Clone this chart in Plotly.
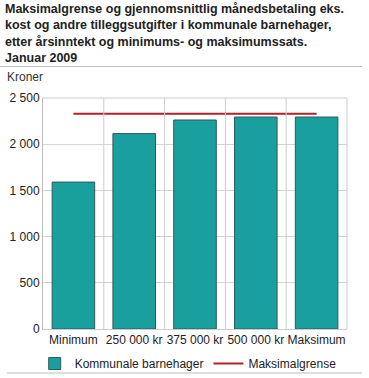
import plotly.graph_objects as go

categories = ["Minimum", "250 000 kr", "375 000 kr", "500 000 kr", "Maksimum"]
kommunale = [1590, 2115, 2262, 2294, 2294]
maksimalgrense = [2330, 2330, 2330, 2330, 2330]
y_ticks = [0, 500, 1000, 1500, 2000, 2500]
y_ticktext = ["0", "500", "1 000", "1 500", "2 000", "2 500"]

title = ("Maksimalgrense og gjennomsnittlig månedsbetaling eks.<br>"
         "kost og andre tilleggsutgifter i kommunale barnehager,<br>"
         "etter årsinntekt og minimums- og maksimumssats.<br>"
         "Januar 2009")

fig = go.Figure()
fig.add_trace(go.Bar(
    x=categories, y=kommunale, name="Kommunale barnehager",
    marker=dict(color="#1a9f9f", line=dict(color="#2e5a5a", width=1)),
    width=0.7,
))
fig.add_trace(go.Scatter(
    x=categories, y=maksimalgrense, name="Maksimalgrense", mode="lines",
    line=dict(color="#b3202a", width=2),
))

W, H = 369, 378
L, R, T, B = 43, 22, 98, 49
pw, ph = W - L - R, H - T - B

def px_x(px):
    return (px - L) / pw

def px_y(py):
    return (H - B - py) / ph

shapes = []
for i in range(len(categories) - 1):
    shapes.append(dict(type="line", xref="x", yref="paper", x0=i + 0.5, x1=i + 0.5,
                       y0=0, y1=1, line=dict(color="#cccccc", width=1), layer="above"))
shapes.append(dict(type="line", xref="paper", yref="paper", x0=1, x1=1, y0=0, y1=1,
                   line=dict(color="#cccccc", width=1), layer="above"))
shapes.append(dict(type="line", xref="paper", yref="paper", x0=0, x1=1, y0=1, y1=1,
                   line=dict(color="#cccccc", width=1), layer="above"))
# rules under title and at bottom
shapes.append(dict(type="line", xref="paper", yref="paper", x0=px_x(0), x1=px_x(362),
                   y0=px_y(66.5), y1=px_y(66.5), line=dict(color="#bdbdbd", width=1)))
shapes.append(dict(type="line", xref="paper", yref="paper", x0=px_x(7), x1=px_x(362),
                   y0=px_y(373), y1=px_y(373), line=dict(color="#bdbdbd", width=1)))

fig.update_layout(
    width=W, height=H,
    margin=dict(l=L, r=R, t=T, b=B, autoexpand=False),
    paper_bgcolor="white", plot_bgcolor="white",
    font=dict(family="Liberation Sans, Arial, sans-serif", size=12, color="#222222"),
    showlegend=True,
    legend=dict(orientation="h", xref="container", yref="container",
                x=0.51, xanchor="center", y=1 - 349/H, yanchor="top",
                bgcolor="rgba(0,0,0,0)", font=dict(size=12), itemwidth=30),
    bargap=0.3,
    shapes=shapes,
    annotations=[
        dict(text="<b>" + title + "</b>", xref="paper", yref="paper",
             x=px_x(3), y=px_y(0), xanchor="left", yanchor="top", align="left",
             showarrow=False, font=dict(size=12.5, color="#222222")),
        dict(text="Kroner", xref="paper", yref="paper", x=px_x(5), y=px_y(77),
             xanchor="left", yanchor="middle", showarrow=False,
             font=dict(size=12, color="#333333")),
    ],
)
fig.update_xaxes(showgrid=False, showline=True, linecolor="#cccccc", ticks="",
                 tickfont=dict(size=12, color="#222222"), automargin=False)
fig.update_yaxes(range=[0, 2500], tickvals=y_ticks, ticktext=y_ticktext,
                 showgrid=True, gridcolor="#d4d4d4", showline=True, linecolor="#bbbbbb",
                 zeroline=False, ticks="", tickfont=dict(size=12, color="#222222"),
                 automargin=False)

fig.write_html("out.html", config={"displayModeBar": False},
               post_script="document.body.style.margin='0';")
